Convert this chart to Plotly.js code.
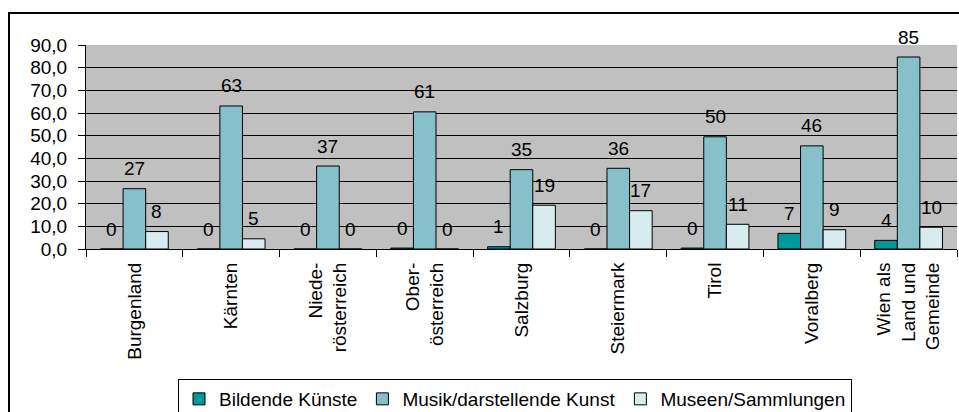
<!DOCTYPE html>
<html>
<head>
<meta charset="utf-8">
<script src="https://cdn.plot.ly/plotly-3.0.1.min.js"></script>
<style>
  html, body { margin: 0; padding: 0; background: #ffffff; overflow: hidden; }
  #wrap { position: relative; width: 959px; height: 412px; overflow: hidden; }
  #chart { position: absolute; left: 0; top: 0; width: 959px; height: 412px; }
  #frame { position: absolute; left: 8px; top: 12px; width: 2000px; height: 2000px;
           border: 2px solid #000000; pointer-events: none; }
</style>
</head>
<body>
<div id="wrap">
  <div id="chart"></div>
  <div id="frame"></div>
</div>
<script>
// ---- data ----
const categories = ['Burgenland', 'Kärnten', 'Niede-<br>rösterreich', 'Ober-<br>österreich',
                    'Salzburg', 'Steiermark', 'Tirol', 'Voralberg', 'Wien als<br>Land und<br>Gemeinde'];
const seriesNames = ['Bildende Künste', 'Musik/darstellende Kunst', 'Museen/Sammlungen'];
const bildendeKuenste = [0, 0, 0, 0.4, 1.0, 0, 0.4, 6.9, 3.8];
const musikDarstellende = [26.6, 63.1, 36.6, 60.5, 35.0, 35.6, 49.5, 45.5, 84.7];
const museenSammlungen = [7.7, 4.5, 0, 0, 19.3, 16.9, 10.9, 8.5, 9.6];
const yTickVals = [0, 10, 20, 30, 40, 50, 60, 70, 80, 90];

// ---- style ----
const FONT = '"Liberation Sans", Arial, sans-serif';
const colors = ['#009999', '#86C1CB', '#D8ECEF'];
const allSeries = [bildendeKuenste, musikDarstellende, museenSammlungen];

const W = 959, H = 412;
const margin = {l: 86, r: 2, t: 45, b: 163, pad: 0, autoexpand: false};
const bargap = 0.3;
const plotW = W - margin.l - margin.r;
const plotH = H - margin.t - margin.b;
const barW = plotW / categories.length * (1 - bargap) / allSeries.length;

const traces = allSeries.map((vals, s) => ({
  type: 'bar',
  name: seriesNames[s],
  x: categories,
  y: vals,
  marker: {color: colors[s], line: {color: '#000000', width: 1}},
  hoverinfo: 'skip'
}));

const annotations = [];
allSeries.forEach((vals, s) => {
  vals.forEach((v, i) => {
    annotations.push({
      x: categories[i], y: v, xref: 'x', yref: 'y',
      text: String(Math.round(v)),
      showarrow: false,
      xshift: (s - 1) * barW,
      yshift: 20,
      font: {family: FONT, size: 19, color: '#000000'}
    });
  });
});

const layout = {
  width: W, height: H,
  margin: margin,
  paper_bgcolor: 'rgba(0,0,0,0)',
  plot_bgcolor: '#C0C0C0',
  separators: ',.',
  barmode: 'group',
  bargap: bargap,
  bargroupgap: 0,
  showlegend: true,
  font: {family: FONT, color: '#000000', size: 19},
  xaxis: {
    type: 'category',
    tickson: 'boundaries',
    ticks: 'outside', ticklen: 7, tickcolor: '#000000', tickwidth: 1,
    tickangle: -90,
    ticklabelstandoff: 5,
    tickfont: {family: FONT, size: 19, color: '#000000'},
    showline: true, linecolor: '#000000', linewidth: 1,
    showgrid: false, zeroline: false,
    fixedrange: true
  },
  yaxis: {
    range: [0, 90],
    tickvals: yTickVals,
    tickformat: '.1f',
    ticks: 'outside', ticklen: 7, tickcolor: '#000000', tickwidth: 1,
    ticklabelstandoff: 7,
    tickfont: {family: FONT, size: 19, color: '#000000'},
    showline: true, linecolor: '#000000', linewidth: 1,
    showgrid: true, gridcolor: '#000000', gridwidth: 1,
    zeroline: false,
    fixedrange: true
  },
  legend: {
    orientation: 'h',
    x: (178 - margin.l) / plotW, xanchor: 'left',
    y: (H - margin.b - 379) / plotH, yanchor: 'top',
    bgcolor: '#ffffff', bordercolor: '#000000', borderwidth: 1,
    font: {family: FONT, size: 19, color: '#000000'},
    traceorder: 'normal'
  },
  annotations: annotations
};

Plotly.newPlot('chart', traces, layout, {displayModeBar: false, staticPlot: true});
</script>
</body>
</html>
